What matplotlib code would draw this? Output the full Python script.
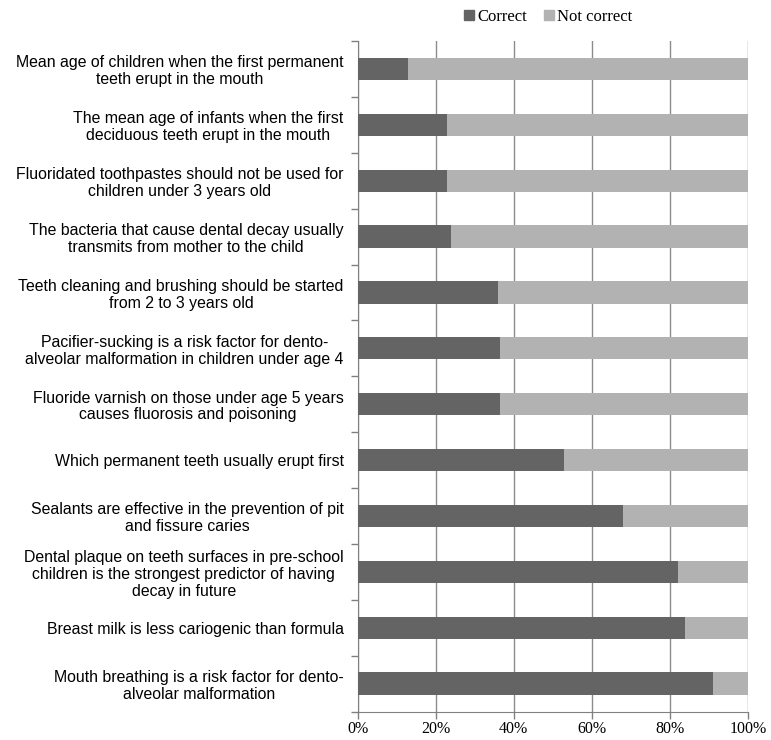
import matplotlib
matplotlib.use("Agg")
import matplotlib.pyplot as plt
import numpy as np
from matplotlib.patches import Patch

questions = [
    "Mean age of children when the first permanent\nteeth erupt in the mouth",
    "The mean age of infants when the first\ndeciduous teeth erupt in the mouth",
    "Fluoridated toothpastes should not be used for\nchildren under 3 years old",
    "The bacteria that cause dental decay usually\ntransmits from mother to the child",
    "Teeth cleaning and brushing should be started\nfrom 2 to 3 years old",
    "Pacifier-sucking is a risk factor for dento-\nalveolar malformation in children under age 4",
    "Fluoride varnish on those under age 5 years\ncauses fluorosis and poisoning",
    "Which permanent teeth usually erupt first",
    "Sealants are effective in the prevention of pit\nand fissure caries",
    "Dental plaque on teeth surfaces in pre-school\nchildren is the strongest predictor of having\ndecay in future",
    "Breast milk is less cariogenic than formula",
    "Mouth breathing is a risk factor for dento-\nalveolar malformation",
]
correct = [13, 23, 23, 24, 36, 36.5, 36.5, 53, 68, 82, 84, 91]
not_correct = [100 - c for c in correct]
xticks = [0, 20, 40, 60, 80, 100]

dark = "#646464"
light = "#b2b2b2"

fig = plt.figure(figsize=(7.71, 7.40), dpi=100)
ax = fig.add_axes([0.4637, 0.0385, 0.5064, 0.9061])

y = np.arange(len(questions))
ax.barh(y, correct, height=0.4, color=dark, zorder=3)
ax.barh(y, not_correct, left=correct, height=0.4, color=light, zorder=3)

ax.set_ylim(len(questions) - 0.5, -0.5)
ax.set_xlim(0, 100)

# category labels, centred multi-line text to the left of the axis
ax.set_yticks(y)
ax.set_yticklabels(questions, fontsize=11.4, family=["Liberation Sans", "DejaVu Sans"],
                   multialignment="center", linespacing=1.15)
ax.tick_params(axis="y", which="major", length=0, pad=10)
ax.set_yticks(np.arange(-0.5, len(questions), 1), minor=True)
ax.tick_params(axis="y", which="minor", length=5, color="#808080", width=1)

ax.set_xticks(xticks)
ax.set_xticklabels([f"{t}%" for t in xticks], fontsize=11.5,
                   family=["Liberation Serif", "DejaVu Serif"])
ax.tick_params(axis="x", length=5, color="#808080", width=1, pad=2)
ax.xaxis.grid(True, color="#8c8c8c", linewidth=1, zorder=0)

for s in ["top", "right"]:
    ax.spines[s].set_visible(False)
ax.spines["left"].set_color("#808080")
ax.spines["bottom"].set_color("#808080")

handles = [Patch(color=dark, label="Correct"), Patch(color=light, label="Not correct")]
fig.legend(handles=handles, loc="center", bbox_to_anchor=(0.711, 0.977), ncol=2,
           frameon=False, prop={"family": ["Liberation Serif"], "size": 12},
           handlelength=0.6, handleheight=0.6, handletextpad=0.2, columnspacing=1.0)

fig.savefig("out.png", dpi=100)
plt.close("all")
